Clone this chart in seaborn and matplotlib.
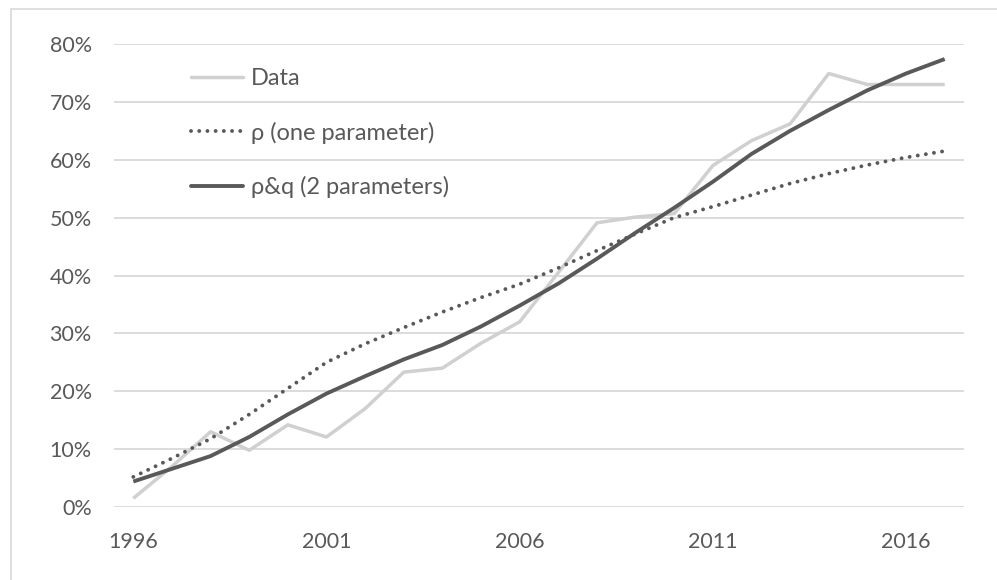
import matplotlib
matplotlib.use("Agg")
import matplotlib.pyplot as plt
from matplotlib.patches import Rectangle
from matplotlib.lines import Line2D
from matplotlib.ticker import FuncFormatter
import seaborn as sns
import pandas as pd

# Annual adoption share (%) and two fitted diffusion curves
years = list(range(1996, 2018))
data_share = [1.5, 7.0, 13.0, 9.8, 14.2, 12.1, 17.0, 23.3, 24.0, 28.3, 32.0,
              40.5, 49.1, 50.1, 50.7, 59.0, 63.3, 66.2, 74.9, 73.0, 73.0, 73.0]
one_param = [5.2, 8.4, 11.8, 16.0, 20.5, 25.0, 28.2, 31.0, 33.7, 36.2, 38.5,
             41.3, 44.3, 47.2, 50.0, 51.9, 53.9, 55.9, 57.6, 59.1, 60.4, 61.5]
two_param = [4.4, 6.6, 8.8, 12.1, 16.0, 19.6, 22.6, 25.5, 28.0, 31.2, 34.8,
             38.6, 42.9, 47.4, 51.7, 56.2, 61.0, 65.0, 68.6, 72.0, 74.9, 77.4]
series_names = ["Data", "ρ (one parameter)", "ρ&q (2 parameters)"]
x_ticks = [1996, 2001, 2006, 2011, 2016]
y_ticks = [0, 10, 20, 30, 40, 50, 60, 70, 80]

df = pd.DataFrame({
    "year": years * 3,
    "share": data_share + one_param + two_param,
    "series": [series_names[0]] * len(years) + [series_names[1]] * len(years)
              + [series_names[2]] * len(years),
})

sns.set_theme(style="white")
plt.rcParams["font.family"] = ["Lato", "DejaVu Sans"]

TEXT = "#595959"
GRID = "#D9D9D9"
LIGHT = "#D0D0D0"
DARK = "#595959"
FS = 15.5
LEG_FS = 17

W, H = 997, 580
fig = plt.figure(figsize=(W / 100, H / 100), dpi=100)
ax = fig.add_axes([114 / W, (H - 507) / H, (964 - 114) / W, (507 - 44) / H])

styles = {
    series_names[0]: dict(color=LIGHT, lw=2.5, ls="-"),
    series_names[1]: dict(color=DARK, lw=2.8, ls=(0, (0.01, 2.1))),
    series_names[2]: dict(color=DARK, lw=2.8, ls="-"),
}
for name in series_names:
    st = styles[name]
    sub = df[df["series"] == name]
    sns.lineplot(data=sub, x="year", y="share", ax=ax, color=st["color"],
                 linewidth=st["lw"], linestyle=st["ls"], legend=False,
                 dash_capstyle="round", solid_capstyle="butt")

ax.set_xlim(1995.5, 2017.5)
ax.set_ylim(0, 80)
ax.set_xticks(x_ticks)
ax.set_yticks(y_ticks)
ax.yaxis.set_major_formatter(FuncFormatter(lambda v, p: f"{v:.0f}%"))
ax.set_xlabel("")
ax.set_ylabel("")
ax.grid(axis="y", color=GRID, linewidth=1.3)
ax.set_axisbelow(True)
for s in ax.spines.values():
    s.set_visible(False)
ax.tick_params(axis="both", length=0, labelsize=FS, labelcolor=TEXT)
ax.tick_params(axis="y", pad=16)
ax.tick_params(axis="x", pad=18)

handles = [Line2D([], [], color=styles[n]["color"], lw=styles[n]["lw"],
                  ls=styles[n]["ls"], dash_capstyle="round") for n in series_names]
leg = fig.legend(handles, series_names, loc="upper left",
                 bbox_to_anchor=(191 / W, (H - 68) / H), frameon=False,
                 fontsize=LEG_FS, handlelength=2.2, handletextpad=0.32,
                 labelspacing=1.38, borderpad=0, borderaxespad=0)
for t in leg.get_texts():
    t.set_color(TEXT)

# chart-area border (top and left edges visible)
fig.patches.append(Rectangle((11 / W, -0.2), 1.2, (H - 9) / H + 0.2,
                             transform=fig.transFigure, fill=False,
                             edgecolor=GRID, linewidth=1.2))

fig.savefig("out.png", dpi=100, facecolor="white")
